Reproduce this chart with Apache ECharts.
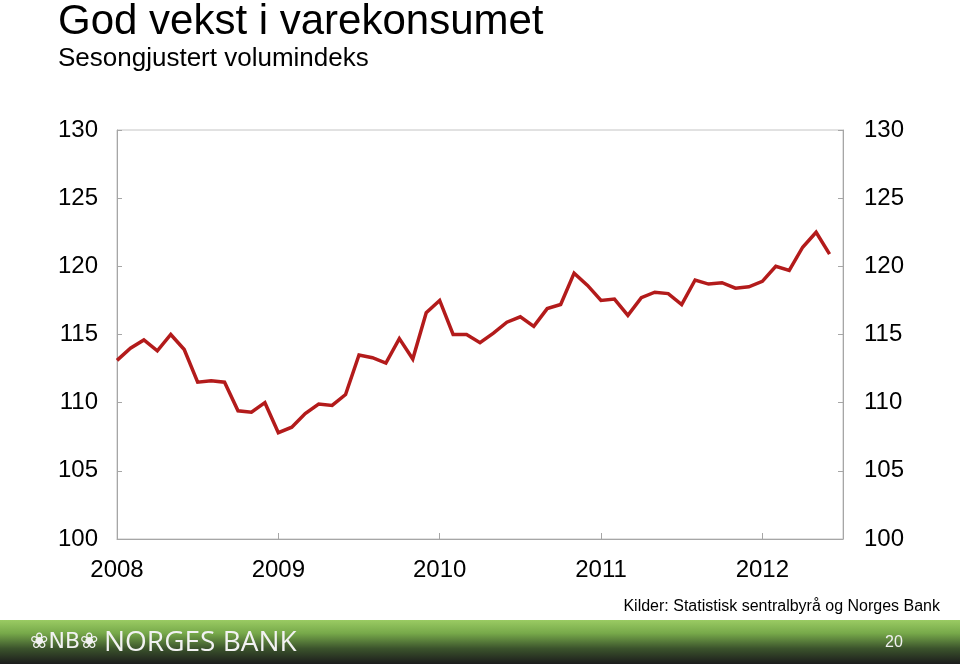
<!DOCTYPE html>
<html>
<head>
<meta charset="utf-8">
<script src="https://cdn.jsdelivr.net/npm/echarts@6/dist/echarts.min.js"></script>
<style>
html,body{margin:0;padding:0;background:#fff;}
#c{width:960px;height:664px;}
</style>
</head>
<body>
<div id="c"></div>
<script>
// Monthly index, Jan 2008 - Jun 2012
const values = [
  113.1, 114.0, 114.6, 113.8, 115.0, 113.9, 111.5, 111.6, 111.5, 109.4, 109.3, 110.0,
  107.8, 108.2, 109.2, 109.9, 109.8, 110.6, 113.5, 113.3, 112.9, 114.7, 113.2, 116.6,
  117.5, 115.0, 115.0, 114.4, 115.1, 115.9, 116.3, 115.6, 116.9, 117.2, 119.5, 118.6,
  117.5, 117.6, 116.4, 117.7, 118.1, 118.0, 117.2, 119.0, 118.7, 118.8, 118.4, 118.5,
  118.9, 120.0, 119.7, 121.4, 122.5, 120.9
];
const yearLabels = ['2008', '2009', '2010', '2011', '2012'];
const monthsPerYear = 12;
const xMax = 54;
const yTicks = [100, 105, 110, 115, 120, 125, 130];

const chart = echarts.init(document.getElementById('c'), null, {renderer: 'canvas'});
const FONT = '"Liberation Sans", Arial, sans-serif';
const axisGray = '#a6a6a6';

const yAxisCommon = {
  type: 'value',
  min: yTicks[0],
  max: yTicks[yTicks.length - 1],
  interval: 5,
  axisLine: {show: true, lineStyle: {color: axisGray, width: 1}},
  axisTick: {show: true, inside: true, length: 5, lineStyle: {color: axisGray}},
  splitLine: {show: false},
  axisLabel: {fontSize: 24, color: '#000', fontFamily: FONT}
};

chart.setOption({
  animation: false,
  title: [
    {text: 'God vekst i varekonsumet', left: 58, top: 1, padding: 0,
     textStyle: {fontSize: 42, fontWeight: 'normal', color: '#000', fontFamily: FONT}},
    {text: 'Sesongjustert volumindeks', left: 58, top: 46, padding: 0,
     textStyle: {fontSize: 26, fontWeight: 'normal', color: '#000', fontFamily: FONT}}
  ],
  grid: {left: 117, right: 117, top: 130, bottom: 125, show: true,
         borderColor: '#c4c4c4', borderWidth: 1, backgroundColor: 'transparent'},
  xAxis: {
    type: 'value', min: 0, max: xMax, interval: monthsPerYear,
    axisLine: {show: true, lineStyle: {color: axisGray}},
    axisTick: {show: true, inside: true, length: 6, lineStyle: {color: axisGray}},
    splitLine: {show: false},
    axisLabel: {
      fontSize: 24, color: '#000', fontFamily: FONT, margin: 19,
      showMaxLabel: false,
      formatter: function (v) {
        const i = Math.round(v / monthsPerYear);
        return (v % monthsPerYear === 0 && yearLabels[i]) ? yearLabels[i] : '';
      }
    }
  },
  yAxis: [
    Object.assign({}, yAxisCommon, {position: 'left',
      axisLabel: Object.assign({}, yAxisCommon.axisLabel, {margin: 19})}),
    Object.assign({}, yAxisCommon, {position: 'right',
      axisLabel: Object.assign({}, yAxisCommon.axisLabel, {margin: 21})})
  ],
  series: [{
    type: 'line',
    yAxisIndex: 0,
    data: values.map((v, i) => [i, v]),
    showSymbol: false,
    lineStyle: {color: '#b31b1b', width: 3.5, join: 'miter'},
    itemStyle: {color: '#b31b1b'}
  }],
  graphic: [
    {type: 'text', right: 20, top: 599,
     style: {text: 'Kilder: Statistisk sentralbyrå og Norges Bank', fontSize: 16,
             fontFamily: FONT, fill: '#000'}},
    {type: 'rect', left: 0, top: 620, z: 10,
     shape: {width: 960, height: 44},
     style: {fill: new echarts.graphic.LinearGradient(0, 0, 0, 1, [
       {offset: 0, color: '#9acb63'},
       {offset: 0.3, color: '#77a94a'},
       {offset: 0.65, color: '#3b532c'},
       {offset: 1, color: '#1c1c1c'}
     ])}},
    {type: 'text', left: 30, top: 631, z: 11,
     style: {text: '❀NB❀', fontSize: 22, fontFamily: '"DejaVu Sans", sans-serif',
             fill: '#f2f2f2'}},
    {type: 'text', left: 104, top: 629, z: 11,
     style: {text: 'NORGES BANK', fontSize: 28, fontFamily: '"Open Sans", sans-serif',
             fill: '#f2f2f2'}},
    {type: 'text', left: 885, top: 635, z: 11,
     style: {text: '20', fontSize: 16, fontFamily: FONT, fill: '#f0f0f0'}}
  ]
});
</script>
</body>
</html>
